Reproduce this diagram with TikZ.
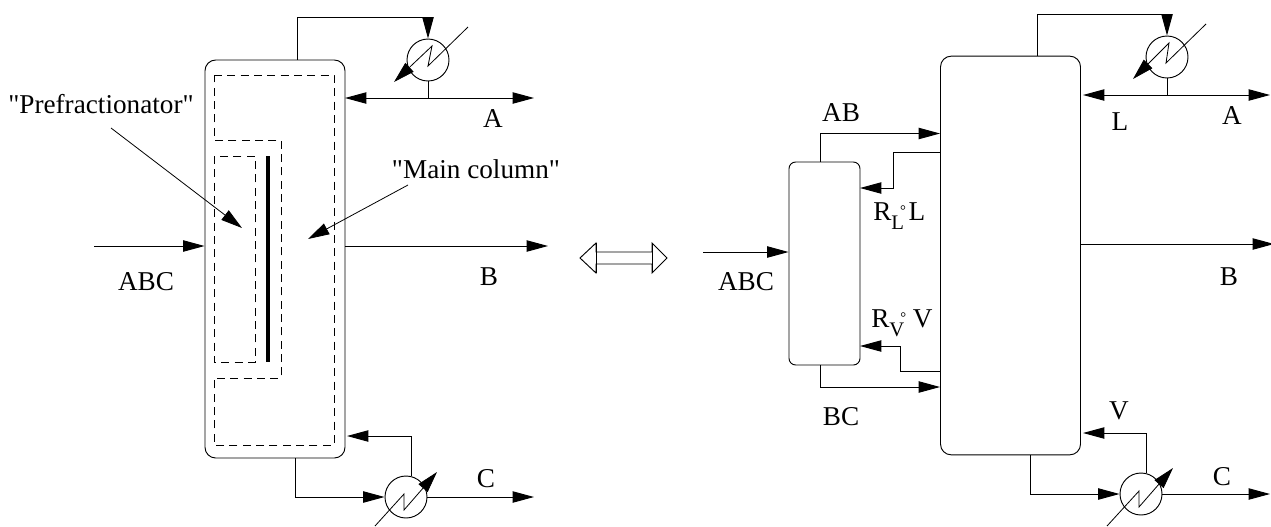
\documentclass[tikz,border=0pt]{standalone}
\usepackage{fontspec}
\setmainfont{Liberation Serif}
\newfontfamily\plainfont{Liberation Serif}
\usetikzlibrary{arrows.meta}
\newcommand{\subtxt}[1]{\raisebox{-7pt}{\fontsize{15.5}{15.5}\selectfont #1}}
\newcommand{\dgr}[1]{\raisebox{#1}{\fontsize{11}{11}\selectfont °}}
\tikzset{
  base/.style={line width=.7pt},
  flow/.style={base,-{Triangle[length=16pt,width=8.5pt]}},
  pipe/.style={base},
  ptr/.style={line width=.6pt,-{Triangle[length=16pt,width=9pt]}},
  column/.style={draw,base,rounded corners=8pt,inner sep=0pt,minimum width=105pt,minimum height=299pt},
  prefrac/.style={draw,base,rounded corners=5pt,inner sep=0pt,minimum width=53.25pt,minimum height=152.25pt},
  hx/.style={draw,base,circle,inner sep=0pt,minimum size=31.5pt},
  zig/.style={line width=.6pt,-{Triangle[length=16pt,width=9pt]}},
  gizz/.style={line width=.6pt,{Triangle[length=16pt,width=9pt]}-},
  envelope/.style={line width=.7pt,dash pattern=on 6pt off 4pt},
  lab/.style={inner sep=0pt,font=\plainfont\fontsize{20.4}{24}\selectfont,text=black},
}
\begin{document}
\begin{tikzpicture}[x=.75pt,y=-.75pt]
\useasboundingbox (0,0) rectangle (1271,526);
% ---- left column ----
\node[column,minimum height=298.5pt] (lcol) at (275,259) {};
\node[hx] (lcond) at (428,60) {};
\node[hx] (lreb) at (406,497) {};
\coordinate (ltop) at (297,17);
\coordinate (ltopr) at (428,17);
\coordinate (ljn) at (428,98);
\coordinate (lrefl) at (345,98);
\coordinate (la) at (534,98);
\coordinate (lbotd) at (295,497);
\coordinate (lupc) at (411,436);
\coordinate (lboil) at (347,436);
\coordinate (lc) at (534,497);
\coordinate (lfeed) at (94,246);
\coordinate (lb) at (548,246);
\draw[pipe] (lcol.north -| ltop) -- (ltop) -- (ltopr);
\draw[flow] (ltopr) -- (lcond.north);
\draw[pipe] (lcond.south) -- (ljn);
\draw[flow] (ljn) -- (lrefl);
\draw[flow] (ljn) -- (la);
\draw[flow] (lcol.south -| lbotd) |- (lreb.west);
\draw[flow] (lreb.north -| lupc) -- (lupc) -- (lboil);
\draw[flow] (lreb.east) -- (lc);
\draw[flow] (lfeed) -- (lfeed -| lcol.west);
\draw[flow] (lfeed -| lcol.east) -- (lb);
% condenser and reboiler arrows
\draw[gizz] (394,82) -- (432,46) -- (428,66) -- (468,27);
\draw[zig] (375,526) -- (404,494) -- (404,510) -- (437,472);
% dashed envelope
\draw[envelope] (214,75) -- (334,75) -- (334,445) -- (214,445) -- (214,378) -- (281,378) -- (281,140) -- (214,140) -- cycle;
\draw[envelope] (214,156) rectangle (255,362);
\draw[line width=2.4pt] (268,156) -- (268,362);
% labels left
\node[lab,anchor=base] (tpre) at (101,113) {"Prefractionator"};
\node[lab,anchor=base] (tmain) at (476,178) {"Main column"};
\coordinate (ppre) at (111,128);
\coordinate (ppret) at (242,228);
\coordinate (pmain) at (408,185);
\coordinate (pmaint) at (308,239);
\draw[ptr] (ppre) -- (ppret);
\draw[ptr] (pmain) -- (pmaint);
\node[lab,anchor=base] (tabc1) at (146,290) {ABC};
\node[lab,anchor=base] (ta1) at (493,127) {A};
\node[lab,anchor=base] (tb1) at (489,285) {B};
\node[lab,anchor=base] (tc1) at (486,487) {C};
% ---- equivalence arrow ----
\draw[base,fill=white] (596,252) -- (652,252) -- (652,243) -- (667,258) -- (652,273) -- (652,264) -- (596,264) -- (596,273) -- (580,258) -- (596,243) -- cycle;
\draw[base] (596,243) -- (596,273);
\draw[base] (652,243) -- (652,273);
% ---- right ----
\node[column] (rcol) at (1010.5,255.5) {};
\node[prefrac] (rpre) at (824.5,263.5) {};
\node[hx] (rcond) at (1167,57) {};
\node[hx] (rreb) at (1141,494) {};
\coordinate (rtop) at (1037,14);
\coordinate (rtopr) at (1167,14);
\coordinate (rjn) at (1167,95);
\coordinate (rrefl) at (1083,95);
\coordinate (ra) at (1270,95);
\coordinate (rbotd) at (1030,494);
\coordinate (rupc) at (1146,433);
\coordinate (rboil) at (1083,433);
\coordinate (rc) at (1270,494);
\coordinate (rfeed) at (703,252);
\coordinate (rb) at (1274,244);
\coordinate (rab) at (820,133.5);
\coordinate (rliq) at (893,152.5);
\coordinate (rliqin) at (860,188);
\coordinate (rvap) at (900,371);
\coordinate (rvapin) at (860,346);
\coordinate (rbc) at (820,387);
\draw[pipe] (rcol.north -| rtop) -- (rtop) -- (rtopr);
\draw[flow] (rtopr) -- (rcond.north);
\draw[pipe] (rcond.south) -- (rjn);
\draw[flow] (rjn) -- (rrefl);
\draw[flow] (rjn) -- (ra);
\draw[flow] (rcol.south -| rbotd) |- (rreb.west);
\draw[flow] (rreb.north -| rupc) -- (rupc) -- (rboil);
\draw[flow] (rreb.east) -- (rc);
\draw[flow] (rfeed) -- (rfeed -| rpre.west);
\draw[flow] (rb -| rcol.east) -- (rb);
\draw[flow] (rpre.north -| rab) -- (rab) -- (rab -| rcol.west);
\draw[flow] (rliq -| rcol.west) -- (rliq) -- (rliq |- rliqin) -- (rliqin);
\draw[flow] (rvap -| rcol.west) -- (rvap) -- (rvap |- rvapin) -- (rvapin);
\draw[flow] (rpre.south -| rbc) -- (rbc) -- (rbc -| rcol.west);
\draw[gizz] (1133,79) -- (1169,43) -- (1166,63) -- (1206,24);
\draw[zig] (1107,526) -- (1139,491) -- (1139,507) -- (1173,468);
% labels right
\node[lab,anchor=base] (tabc2) at (746,290) {ABC};
\node[lab,anchor=base] (tab) at (841,121) {AB};
\node[lab,anchor=base] (tbc) at (841,425) {BC};
\node[lab,anchor=base] (ta2) at (1232,124) {A};
\node[lab,anchor=base] (tl) at (1120,130) {L};
\node[lab,anchor=base] (tb2) at (1229,285) {B};
\node[lab,anchor=base] (tv) at (1119,419) {V};
\node[lab,anchor=base] (tc2) at (1222,485) {C};
\node[lab,anchor=base west] (trl) at (873,220) {R\subtxt{L}\kern-3pt\dgr{3.5pt}\kern2pt L};
\node[lab,anchor=base west] (trv) at (871,327) {R\subtxt{V}\kern-3pt\dgr{3.5pt}\kern5pt V};
\end{tikzpicture}
\end{document}
